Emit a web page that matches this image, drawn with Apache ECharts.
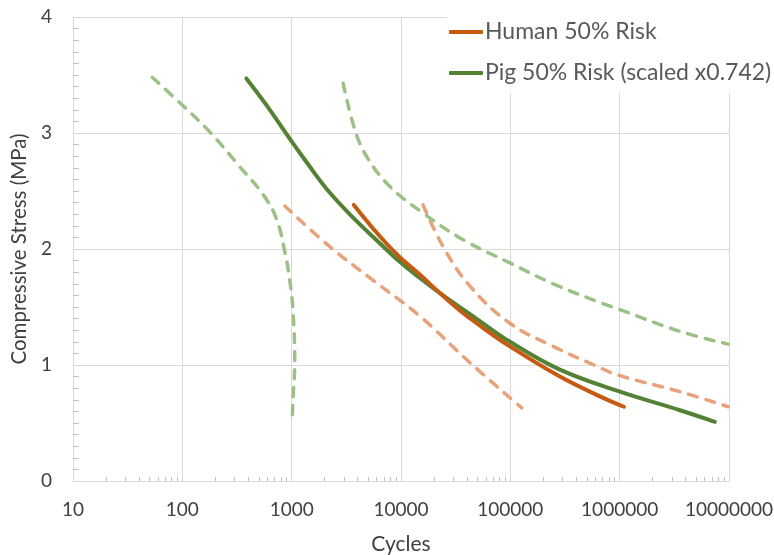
<!DOCTYPE html>
<html>
<head>
<meta charset="utf-8">
<script src="https://cdn.jsdelivr.net/npm/echarts@6/dist/echarts.min.js"></script>
<style>
  html, body { margin: 0; padding: 0; background: #fff; }
  #chartId { width: 774px; height: 555px; }
</style>
</head>
<body>
<div id="chartId"></div>
<script>
// Human 50% risk (solid) and its bounds (dashed)
const humanCycles = [3700, 6400, 9750, 14860, 22650, 34500, 49100, 99100, 284000, 659000, 1094000];
const humanStress = [2.38, 2.11, 1.93, 1.78, 1.62, 1.47, 1.36, 1.16, 0.90, 0.73, 0.64];
const humanLoCycles = [865, 2234, 5560, 14900, 42700, 127000];
const humanLoStress = [2.37, 2.02, 1.73, 1.42, 1.02, 0.63];
const humanHiCycles = [15900, 24300, 42700, 99100, 247000, 615000, 989000, 3560000, 9840000];
const humanHiStress = [2.38, 2.02, 1.68, 1.36, 1.16, 0.99, 0.91, 0.77, 0.64];

// Pig 50% risk (scaled) and its bounds (dashed)
const pigCycles = [385, 588, 995, 1365, 2080, 3650, 6400, 9750, 14860, 22650, 45700, 99100, 284000, 1005000, 3560000, 7430000];
const pigStress = [3.47, 3.24, 2.93, 2.75, 2.52, 2.27, 2.05, 1.89, 1.75, 1.62, 1.42, 1.20, 0.96, 0.77, 0.61, 0.51];
const pigLoCycles = [53, 95, 178, 335, 547, 726, 864, 961, 1031, 1067, 1031, 1009];
const pigLoStress = [3.48, 3.26, 3.01, 2.71, 2.47, 2.26, 1.98, 1.73, 1.45, 1.02, 0.73, 0.51];
const pigHiCycles = [2950, 3780, 4830, 7890, 15900, 37000, 99100, 247000, 615000, 989000, 3560000, 9840000];
const pigHiStress = [3.43, 3.03, 2.80, 2.54, 2.31, 2.08, 1.88, 1.70, 1.55, 1.48, 1.29, 1.18];

// minor ticks of the log axis (2..9 in each decade)
const xMinorTicks = [];
for (let d = 10; d < 1e7; d *= 10) {
    for (let k = 2; k <= 9; k++) xMinorTicks.push(d * k);
}

function zip(xs, ys) {
    return xs.map((x, i) => [x, ys[i]]);
}

const ORANGE = '#C55A11';
const GREEN = '#548235';
const ORANGE_LIGHT = '#E8A27B';
const GREEN_LIGHT = '#9CC187';
const FONT = 'Lato';

function solid(name, color, data) {
    return {
        name: name, type: 'line', data: data, symbol: 'none', smooth: 0.4,
        itemStyle: {color: color},
        lineStyle: {color: color, width: 4, cap: 'round'},
        z: 3
    };
}

function dashed(name, color, data) {
    return {
        name: name, type: 'line', data: data, symbol: 'none', smooth: 0.4,
        itemStyle: {color: color},
        lineStyle: {color: color, width: 3.5, type: [9, 9], cap: 'round'},
        z: 2
    };
}

let chart = echarts.init(document.getElementById('chartId'));
chart.setOption({
    animation: false,
    textStyle: {fontFamily: FONT},
    grid: {left: 73, right: 45, top: 17, bottom: 74, outerBoundsMode: 'none', containLabel: false},
    legend: {
        orient: 'vertical',
        left: 447, top: 0,
        padding: [20, 10, 8, 2],
        backgroundColor: '#fff',
        itemGap: 17,
        itemWidth: 34, itemHeight: 4,
        icon: 'roundRect',
        data: ['Human 50% Risk', 'Pig 50% Risk (scaled x0.742)'],
        textStyle: {color: '#595959', fontSize: 23, lineHeight: 24, fontFamily: FONT, padding: [0, 0, 0, -3]},
        z: 10
    },
    xAxis: [{
        type: 'log', logBase: 10, min: 10, max: 1e7,
        name: 'Cycles', nameLocation: 'middle', nameGap: 53,
        nameTextStyle: {color: '#404040', fontSize: 21, fontFamily: FONT},
        axisLine: {lineStyle: {color: '#D9D9D9', width: 1}},
        axisTick: {show: false},
        axisLabel: {
            color: '#404040', fontSize: 19, margin: 19, fontFamily: FONT,
            formatter: v => String(Math.round(v))
        },
        splitLine: {show: true, lineStyle: {color: '#D9D9D9', width: 1}}
    }, {
        // second axis only for the minor tick marks
        type: 'log', logBase: 10, min: 10, max: 1e7, position: 'bottom',
        axisLine: {show: false},
        axisLabel: {show: false},
        splitLine: {show: false},
        axisTick: {show: true, inside: true, length: 4, customValues: xMinorTicks,
            lineStyle: {color: '#BFBFBF'}}
    }],
    yAxis: {
        type: 'value', min: 0, max: 4, interval: 1,
        name: 'Compressive Stress (MPa)', nameLocation: 'middle', nameGap: 35,
        nameTextStyle: {color: '#404040', fontSize: 20.5, fontFamily: FONT},
        axisLine: {show: true, lineStyle: {color: '#D9D9D9', width: 1}},
        axisTick: {show: false, inside: true},
        minorTick: {show: true, splitNumber: 10, length: 6, lineStyle: {color: '#BFBFBF'}},
        axisLabel: {color: '#404040', fontSize: 19, margin: 21, fontFamily: FONT},
        splitLine: {show: true, lineStyle: {color: '#D9D9D9', width: 1}}
    },
    series: [
        dashed('Human low', ORANGE_LIGHT, zip(humanLoCycles, humanLoStress)),
        dashed('Human high', ORANGE_LIGHT, zip(humanHiCycles, humanHiStress)),
        dashed('Pig low', GREEN_LIGHT, zip(pigLoCycles, pigLoStress)),
        dashed('Pig high', GREEN_LIGHT, zip(pigHiCycles, pigHiStress)),
        solid('Pig 50% Risk (scaled x0.742)', GREEN, zip(pigCycles, pigStress)),
        solid('Human 50% Risk', ORANGE, zip(humanCycles, humanStress))
    ]
});
</script>
</body>
</html>
